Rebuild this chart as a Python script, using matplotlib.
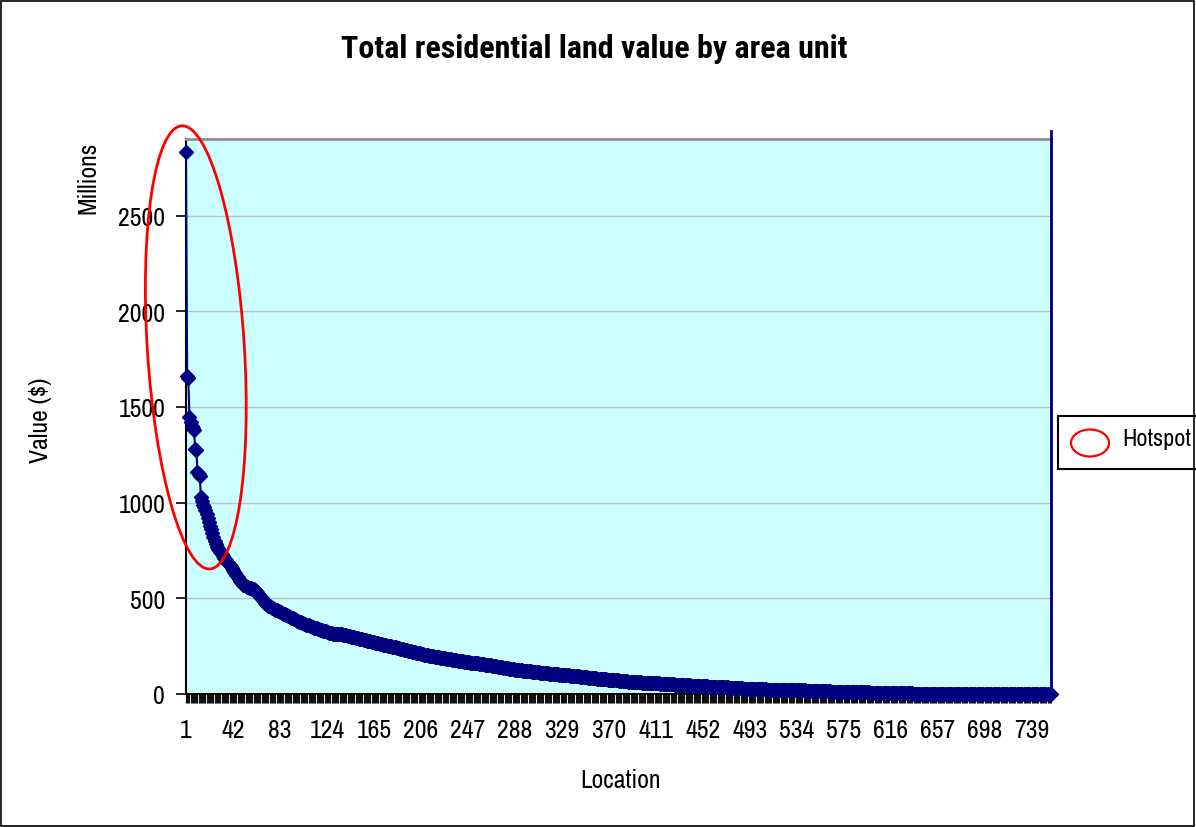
import numpy as np
import matplotlib
matplotlib.use("Agg")
import matplotlib.pyplot as plt
from matplotlib.patches import Ellipse, Rectangle

plt.rcParams['font.family'] = ['Liberation Sans Narrow', 'Archivo Narrow', 'Roboto Condensed',
                               'Liberation Sans', 'DejaVu Sans']
title_family = ['Roboto Condensed', 'PT Sans Narrow', 'Liberation Sans Narrow', 'Liberation Sans', 'DejaVu Sans']

title = "Total residential land value by area unit"
x_label = "Location"
y_label = "Value ($)"
y_unit = "Millions"
legend_label = "Hotspot"

# Land value per area unit (millions of $), sorted descending
values = [
    2830, 1660, 1650, 1450, 1420, 1400, 1390, 1380, 1280, 1275, 1160, 1150, 1140, 1030, 1010, 990, 975, 960, 940, 920,
    900, 880, 860, 840, 820, 800, 785, 770, 760, 750, 740, 730, 720, 712, 705, 698, 690, 682, 675, 668,
    660, 650, 640, 630, 620, 610, 600, 592, 585, 578, 572, 567, 563, 560, 558, 556, 554, 552, 550, 548,
    545, 540, 533, 525, 517, 509, 500, 492, 485, 478, 472, 467, 462, 458, 454, 450, 447, 444, 441, 438,
    435, 432, 429, 426, 423, 420, 417, 414, 411, 408, 405, 402, 399, 396, 393, 390, 387, 384, 381, 378,
    375, 373, 370, 368, 365, 363, 360, 358, 355, 353, 351, 349, 347, 345, 343, 341, 339, 337, 335, 333,
    331, 329, 327, 325, 323, 321, 319, 317, 316, 315, 314, 313, 313, 312, 312, 311, 311, 310, 309, 308,
    306, 305, 303, 302, 300, 299, 297, 296, 294, 293, 291, 290, 288, 287, 285, 284, 282, 281, 279, 278,
    276, 275, 273, 272, 270, 269, 267, 266, 264, 263, 261, 260, 258, 257, 255, 254, 253, 251, 250, 249,
    247, 246, 244, 243, 241, 240, 238, 237, 235, 234, 232, 231, 229, 228, 226, 225, 223, 222, 220, 219,
    217, 216, 214, 213, 212, 210, 209, 208, 206, 205, 204, 203, 201, 200, 199, 198, 196, 195, 194, 193,
    192, 191, 190, 189, 188, 187, 186, 185, 184, 183, 182, 181, 180, 179, 178, 177, 176, 175, 174, 173,
    172, 171, 170, 169, 168, 167, 166, 165, 164, 163, 163, 162, 162, 161, 161, 160, 159, 158, 157, 156,
    155, 154, 153, 152, 151, 150, 149, 148, 147, 146, 145, 144, 143, 142, 141, 140, 139, 138, 137, 136,
    135, 134, 133, 132, 131, 130, 129, 128, 127, 126, 126, 125, 124, 123, 122, 122, 121, 120, 120, 119,
    118, 118, 117, 116, 116, 115, 114, 114, 113, 112, 112, 111, 110, 110, 109, 108, 108, 107, 106, 106,
    105, 104, 104, 103, 102, 102, 101, 100, 100, 99, 99, 98, 98, 97, 97, 96, 96, 95, 95, 94,
    94, 93, 93, 92, 91, 90, 90, 89, 88, 87, 87, 86, 85, 84, 84, 83, 82, 81, 81, 80,
    79, 79, 78, 78, 77, 77, 76, 76, 75, 75, 74, 74, 73, 73, 72, 72, 71, 71, 70, 70,
    69, 69, 68, 67, 67, 66, 65, 65, 64, 64, 63, 63, 62, 62, 62, 61, 61, 61, 60, 60,
    60, 59, 59, 59, 58, 58, 58, 57, 57, 56, 56, 56, 55, 55, 54, 54, 53, 53, 52, 52,
    52, 51, 51, 51, 50, 50, 50, 49, 49, 48, 48, 48, 47, 47, 47, 46, 46, 46, 45, 45,
    45, 44, 44, 44, 43, 43, 43, 42, 42, 42, 41, 41, 41, 40, 40, 40, 39, 39, 39, 38,
    38, 38, 37, 37, 37, 36, 36, 36, 35, 35, 35, 34, 34, 34, 33, 33, 33, 32, 32, 32,
    31, 31, 30, 30, 29, 29, 28, 28, 28, 27, 27, 27, 27, 26, 26, 26, 26, 25, 25, 25,
    25, 25, 24, 24, 24, 24, 24, 23, 23, 23, 23, 23, 23, 22, 22, 22, 22, 22, 22, 22,
    22, 21, 21, 21, 21, 21, 21, 21, 21, 21, 21, 20, 20, 20, 20, 20, 20, 19, 19, 19,
    19, 18, 18, 18, 18, 17, 17, 17, 17, 16, 16, 16, 16, 15, 15, 15, 15, 15, 14, 14,
    14, 14, 14, 13, 13, 13, 13, 13, 12, 12, 12, 12, 12, 11, 11, 11, 11, 11, 10, 10,
    10, 10, 10, 10, 9, 9, 9, 9, 9, 9, 8, 8, 8, 8, 8, 8, 8, 7, 7, 7,
    7, 7, 7, 7, 6, 6, 6, 6, 6, 6, 6, 5, 5, 5, 5, 5, 5, 5, 5, 4,
    4, 4, 4, 4, 4, 4, 4, 3, 3, 3, 3, 3, 3, 3, 3, 2, 2, 2, 2, 2,
    2, 2, 2, 2, 2, 2, 1, 1, 1, 1, 1, 1, 1, 1, 1, 1, 1, 1, 1, 1,
    1, 1, 1, 1, 1, 1, 1, 1, 1, 1, 0, 0, 0, 0, 0, 0, 0, 0, 0, 0,
    0, 0, 0, 0, 0, 0, 0, 0, 0, 0, 0, 0, 0, 0, 0, 0, 0, 0, 0, 0,
    0, 0, 0, 0, 0, 0, 0, 0, 0, 0, 0, 0, 0, 0, 0, 0, 0, 0, 0, 0,
    0, 0, 0, 0, 0, 0, 0, 0, 0, 0, 0, 0, 0, 0, 0, 0, 0, 0, 0, 0,
    0, 0, 0, 0, 0, 0, 0, 0, 0, 0, 0, 0, 0, 0, 0, 0,
]
spike_top = 2940          # trailing vertical segment at the last category
label_step = 41
y_ticks = [0, 500, 1000, 1500, 2000, 2500]
y_max = 2900

n = len(values)
x = np.arange(1, n + 1)

W, H = 1196, 828
fig = plt.figure(figsize=(W / 100, H / 100), dpi=100)
fig.patch.set_facecolor("white")

L, R, T, B = 186, 1051, 140, 695
ax = fig.add_axes([L / W, 1 - B / H, (R - L) / W, (B - T) / H])
ax.set_facecolor("#CCFFFF")

navy = "#000080"
ax.plot(x, values, color=navy, lw=1.5, marker="D", markersize=7.5,
        markerfacecolor=navy, markeredgecolor=navy, zorder=3, clip_on=False)
ax.plot([x[-1], x[-1]], [values[-1], spike_top], color=navy, lw=2, clip_on=False, zorder=3)

ax.set_xlim(1, n)
ax.set_ylim(0, y_max)
ax.set_yticks(y_ticks)
ax.set_yticklabels([str(v) for v in y_ticks])
xt = list(range(1, n + 1, label_step))
ax.set_xticks(xt)
ax.set_xticklabels([str(v) for v in xt])
ax.set_xticks(x, minor=True)

ax.grid(axis="y", color="#C0C0C0", lw=1)
ax.set_axisbelow(True)

for s in ["left", "bottom"]:
    ax.spines[s].set_color("black")
    ax.spines[s].set_linewidth(1.5)
for s in ["top", "right"]:
    ax.spines[s].set_color("#909090")
    ax.spines[s].set_linewidth(2)

ax.tick_params(axis="y", length=7, width=1.2, pad=8, labelsize=18.5, colors="black")
ax.tick_params(axis="x", which="major", length=6.5, width=0.8, pad=11, labelsize=18.5, colors="black")
ax.tick_params(axis="x", which="minor", length=6.5, width=0.8, color="#111111")

fig.text(594 / W, 1 - 49 / H, title, ha="center", va="center", fontsize=23, fontweight="bold",
         family=title_family)
fig.text(620 / W, 1 - 781 / H, x_label, ha="center", va="center", fontsize=18.5)
fig.text(40 / W, 1 - 420 / H, y_label, ha="center", va="center", fontsize=18.5, rotation=90)
fig.text(88 / W, 1 - 178 / H, y_unit, ha="center", va="center", fontsize=18.5, rotation=90)

# Hotspot ellipse (annotation), in figure inches
tr = fig.dpi_scale_trans
fig.patches.append(Ellipse((195.8 / 100, (H - 348.4) / 100), 97 / 100, 444 / 100, angle=3.65,
                           fill=False, edgecolor="red", lw=2, transform=tr, zorder=10))

# Legend box (partially cut by figure edge)
fig.patches.append(Rectangle((1058 / 100, (H - 470) / 100), 200 / 100, 52.5 / 100,
                             fill=True, facecolor="white", edgecolor="black", lw=1.5, transform=tr, zorder=10))
fig.patches.append(Ellipse((1090 / 100, (H - 444) / 100), 38 / 100, 27 / 100,
                           fill=False, edgecolor="red", lw=1.6, transform=tr, zorder=11))
fig.text(1122 / W, 1 - 440 / H, legend_label, ha="left", va="center", fontsize=17.5, zorder=12)

# Chart area border
fig.patches.append(Rectangle((0.01, 0.01), (W - 3) / 100, (H - 3) / 100, fill=False,
                             edgecolor="black", lw=1.2, transform=tr, zorder=20))

fig.savefig("out.png", dpi=100)
